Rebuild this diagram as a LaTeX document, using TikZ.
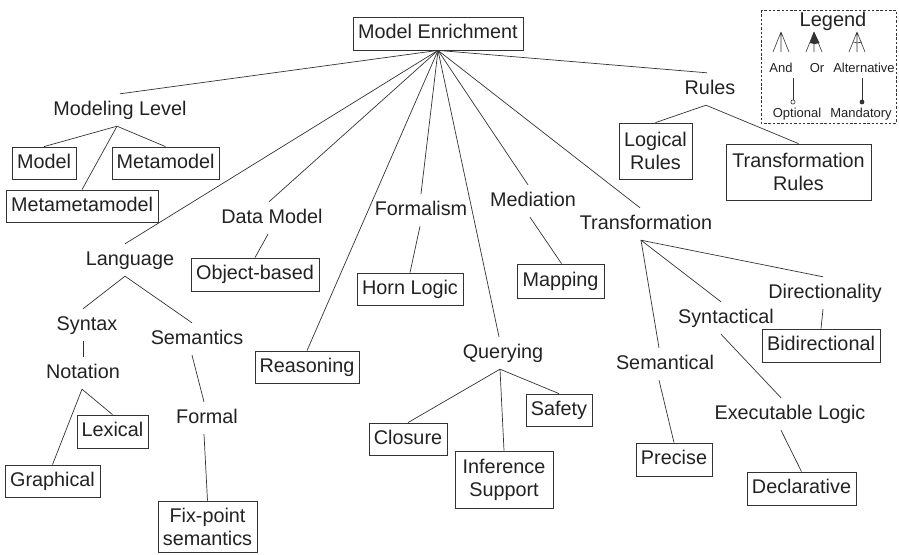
\documentclass[tikz,border=0pt]{standalone}
\usepackage{fontspec}
\setmainfont{Liberation Sans}
\usetikzlibrary{shadows}
\definecolor{ink}{HTML}{222222}
\definecolor{ln}{HTML}{333333}
\begin{document}
\begin{tikzpicture}[x=1pt,y=-1pt,
  every node/.style={text=ink,font=\fontsize{19.8}{23}\selectfont},
  lbl/.style={inner sep=0pt, minimum height=32pt, text height=14pt, text depth=4pt},
  box/.style={draw=ln, line width=0.8pt, fill=white, inner sep=0pt, align=center,
     text height=14pt, text depth=4pt,
     drop shadow={shadow xshift=0.7pt, shadow yshift=-0.7pt, fill=black!55, opacity=1}},
  conn/.style={draw=ln, line width=0.7pt},
  leg/.style={font=\fontsize{13}{15}\selectfont, inner sep=0pt}]
\useasboundingbox (0,0) rectangle (899,554);

% root
\node[box, minimum width=170pt, minimum height=33pt] (me) at (438,33.5) {Model Enrichment};

% Modeling level
\node[lbl] (ml) at (120,110) {Modeling Level};
\node[box, minimum width=64pt, minimum height=32pt] (model) at (44,163) {Model};
\node[box, minimum width=107pt, minimum height=32pt] (metamodel) at (165.5,163) {Metamodel};
\node[box, minimum width=152pt, minimum height=32pt] (metameta) at (82,206) {Metametamodel};

% Language
\node[lbl] (lang) at (130,260) {Language};
\node[lbl] (syntax) at (87,325) {Syntax};
\node[lbl] (semantics) at (197,339) {Semantics};
\node[lbl] (notation) at (83,373) {Notation};
\node[box, minimum width=71pt, minimum height=33pt] (lexical) at (112.5,431.5) {Lexical};
\node[box, minimum width=95pt, minimum height=32pt] (graphical) at (52.5,481) {Graphical};
\node[lbl] (formal) at (207,418) {Formal};
\node[box, minimum width=99pt, minimum height=51pt, text height=, text depth=] (fixpoint) at (207.5,526.5) {Fix-point\\semantics};

% Data model
\node[lbl] (datamodel) at (272,218) {Data Model};
\node[box, minimum width=128pt, minimum height=33pt] (objbased) at (255,274.5) {Object-based};

% Reasoning
\node[box, minimum width=104pt, minimum height=32pt] (reasoning) at (307,367) {Reasoning};

% Formalism
\node[lbl] (formalism) at (421,210) {Formalism};
\node[box, minimum width=106pt, minimum height=32pt] (horn) at (410,289) {Horn Logic};

% Mediation
\node[lbl] (mediation) at (533,201) {Mediation};
\node[box, minimum width=87pt, minimum height=34pt] (mapping) at (560.5,281) {Mapping};

% Querying
\node[lbl] (querying) at (503,353) {Querying};
\node[box, minimum width=78pt, minimum height=32pt] (closure) at (408,439) {Closure};
\node[box, minimum width=98pt, minimum height=57pt, text height=, text depth=] (inference) at (504,479.5) {Inference\\Support};
\node[box, minimum width=66pt, minimum height=32pt] (safety) at (559,410) {Safety};

% Transformation
\node[lbl] (transformation) at (646,224) {Transformation};
\node[lbl] (semantical) at (665,364) {Semantical};
\node[lbl] (syntactical) at (726,318) {Syntactical};
\node[lbl] (directionality) at (825,293) {Directionality};
\node[box, minimum width=118pt, minimum height=33pt] (bidirectional) at (821,345.5) {Bidirectional};
\node[lbl] (execlogic) at (790,414) {Executable Logic};
\node[box, minimum width=109pt, minimum height=33pt] (declarative) at (801.5,488.5) {Declarative};
\node[box, minimum width=76pt, minimum height=33pt] (precise) at (674,459.5) {Precise};

% Rules
\node[lbl] (rules) at (710,89) {Rules};
\node[box, minimum width=73pt, minimum height=56pt, text height=, text depth=] (logical) at (655.5,151) {Logical\\Rules};
\node[box, minimum width=145pt, minimum height=56pt, text height=, text depth=] (transrules) at (798.5,172) {Transformation\\Rules};

% connectors from root
\draw[conn] (me.south) -- (ml.north);
\draw[conn] (me.south) -- ([xshift=-5pt]lang.north);
\draw[conn] (me.south) -- ([xshift=-3pt]datamodel.north);
\draw[conn] (me.south) -- (reasoning.north);
\draw[conn] (me.south) -- (formalism.north);
\draw[conn] (me.south) -- ([xshift=-4pt]querying.north);
\draw[conn] (me.south) -- ([xshift=-5pt]mediation.north);
\draw[conn] (me.south) -- ([xshift=-6pt]transformation.north);
\draw[conn] (me.south) -- ([xshift=-3pt]rules.north);

% modeling level
\draw[conn] ([xshift=-3pt]ml.south) -- (model.north);
\draw[conn] ([xshift=-3pt]ml.south) -- (metamodel.north);
\draw[conn] ([xshift=-3pt]ml.south) -- (metameta.north);

% language
\draw[conn] ([xshift=-5pt]lang.south) -- ([xshift=-4pt]syntax.north);
\draw[conn] ([xshift=-5pt]lang.south) -- ([xshift=-5pt]semantics.north);
\draw[conn] ([xshift=-4pt]syntax.south) -- (notation.north);
\draw[conn] ([xshift=-1pt]notation.south) -- (lexical.north);
\draw[conn] ([xshift=-1pt]notation.south) -- (graphical.north);
\draw[conn] ([xshift=-5pt]semantics.south) -- ([xshift=-3pt]formal.north);
\draw[conn] ([xshift=-3pt]formal.south) -- (fixpoint.north);

% data model, formalism, mediation
\draw[conn] ([xshift=-4pt]datamodel.south) -- (objbased.north);
\draw[conn] ([xshift=-1pt]formalism.south) -- (horn.north);
\draw[conn] ([xshift=-3pt]mediation.south) -- ([xshift=1pt]mapping.north);

% querying
\draw[conn] ([xshift=-3pt]querying.south) -- (closure.north);
\draw[conn] ([xshift=-3pt]querying.south) -- (inference.north);
\draw[conn] ([xshift=-3pt]querying.south) -- (safety.north);

% transformation
\draw[conn] ([xshift=-5pt]transformation.south) -- ([xshift=-6pt]semantical.north);
\draw[conn] ([xshift=-5pt]transformation.south) -- ([xshift=-5pt]syntactical.north);
\draw[conn] ([xshift=-5pt]transformation.south) -- ([xshift=-2pt]directionality.north);
\draw[conn] ([xshift=-2pt]directionality.south) -- (bidirectional.north);
\draw[conn] ([xshift=-5pt]syntactical.south) -- ([xshift=-9pt]execlogic.north);
\draw[conn] ([xshift=-9pt]execlogic.south) -- (declarative.north);
\draw[conn] ([xshift=-6pt]semantical.south) -- (precise.north);

% rules
\draw[conn] ([xshift=-4pt]rules.south) -- (logical.north);
\draw[conn] ([xshift=-4pt]rules.south) -- (transrules.north);

% legend
\draw[ln, line width=0.7pt, dash pattern=on 2.5pt off 1.8pt] (761,10) rectangle (896,123);
\node[inner sep=0pt, font=\fontsize{20}{22}\selectfont] (legtitle) at (833,21) {Legend};
% And
\coordinate (andA) at (781,32);
\draw[conn, line width=0.6pt] (andA) -- (773,52) (andA) -- (781,52) (andA) -- (789,52);
% Or
\coordinate (orA) at (814,32);
\fill[ln] (orA) -- (809.8,43) arc[start angle=245, end angle=295, radius=11.5pt] -- cycle;
\draw[conn, line width=0.6pt] (orA) -- (806,52) (orA) -- (814,52) (orA) -- (822,52);
% Alternative
\coordinate (altA) at (857,32);
\draw[conn, line width=0.6pt] (altA) -- (849,52) (altA) -- (857,52) (altA) -- (865,52);
\draw[conn, line width=0.6pt] (853.0,42) arc[start angle=245, end angle=295, radius=10.5pt];
\node[leg] (andl) at (781,68) {And};
\node[leg] (orl) at (817,68) {Or};
\node[leg] (altl) at (864,68) {Alternative};
% Optional / Mandatory
\coordinate (optT) at (793,78);
\coordinate (manT) at (862,78);
\draw[conn, line width=0.6pt] (optT) -- (793,100);
\draw[ln, line width=0.6pt, fill=white] (793,102) circle[radius=2.1pt];
\draw[conn, line width=0.6pt] (manT) -- (862,100);
\fill[ln] (862,102) circle[radius=2.4pt];
\node[leg] (optl) at (797,114) {Optional};
\node[leg] (manl) at (861,114) {Mandatory};
\end{tikzpicture}
\end{document}
